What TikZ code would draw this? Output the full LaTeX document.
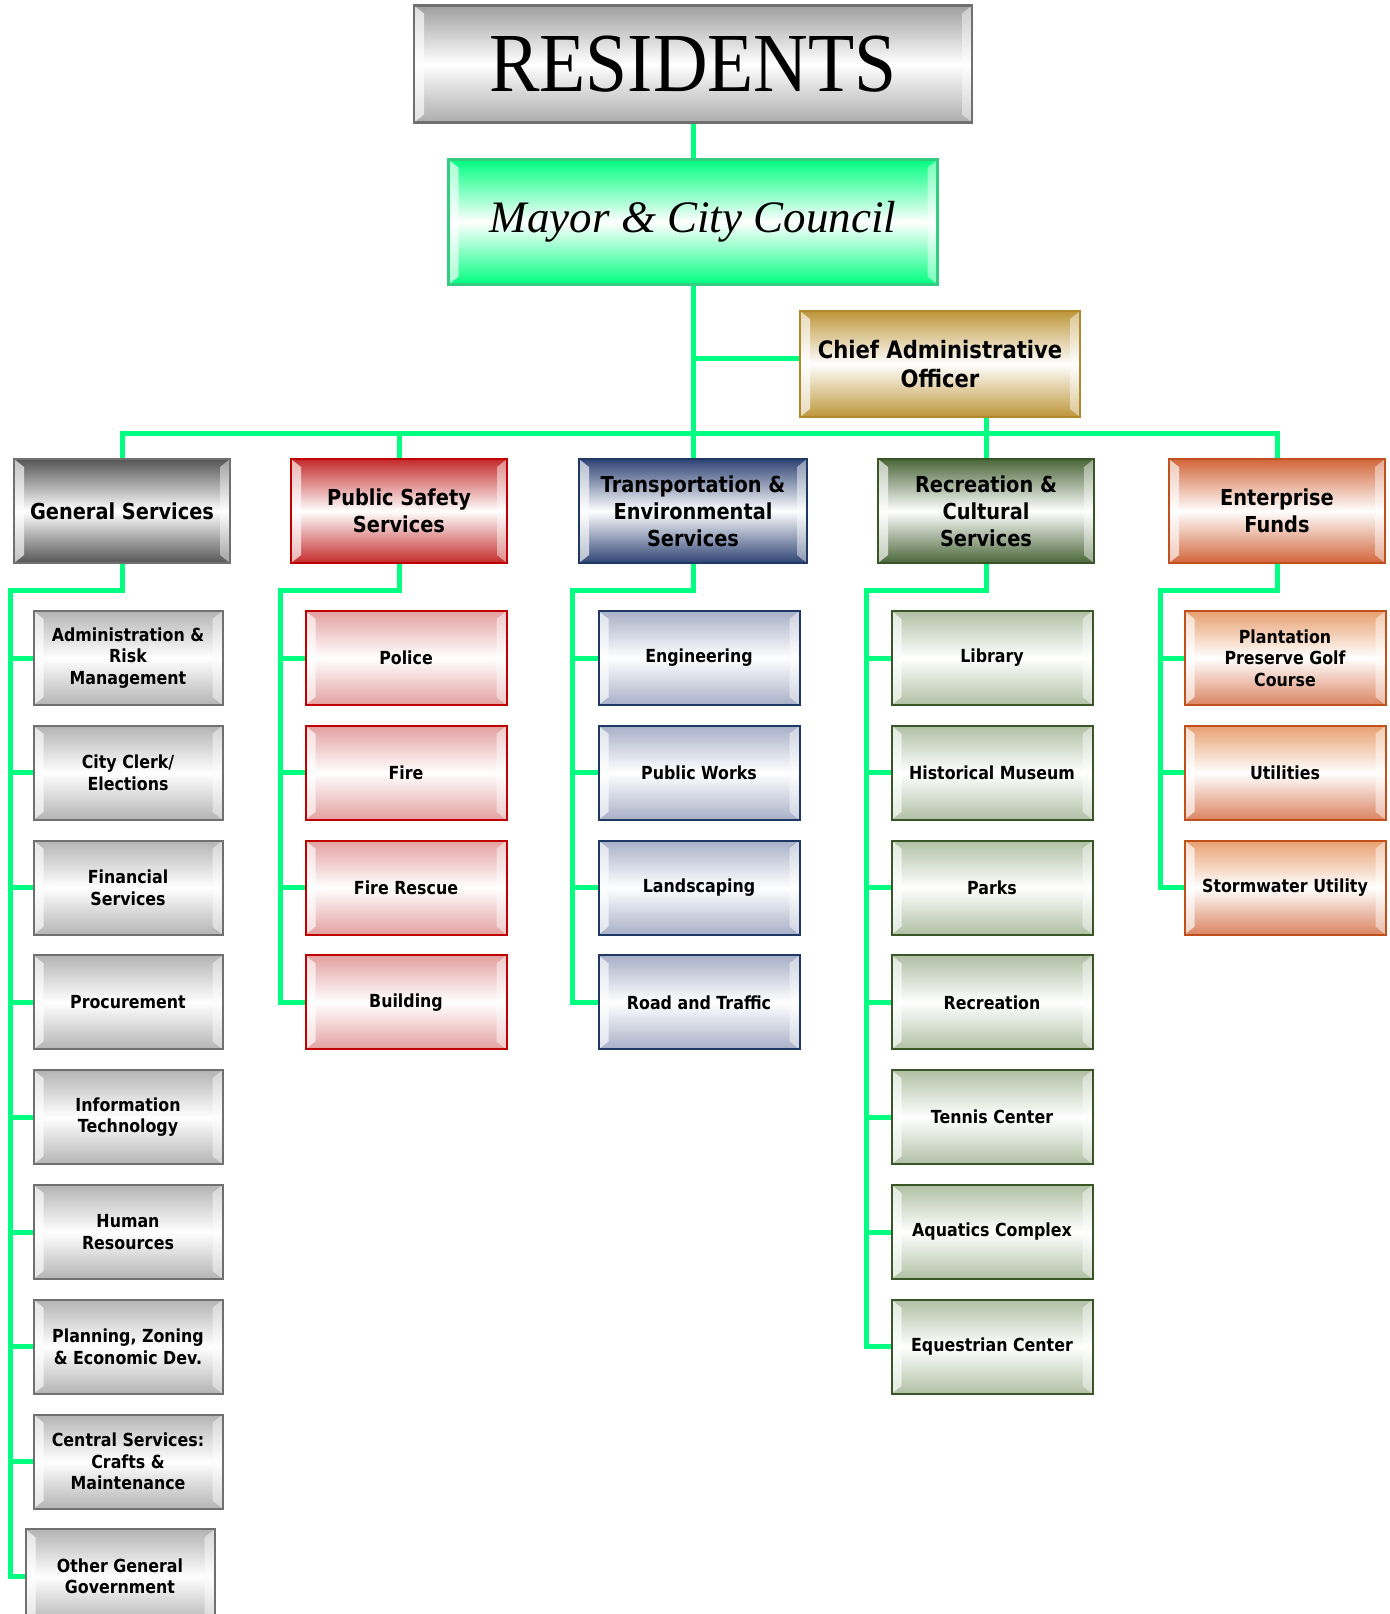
\documentclass[tikz,border=0pt]{standalone}
\usepackage{fontspec}
\setmainfont{DejaVu Sans}[FakeStretch=0.88]
\newfontfamily\residentsfont{Liberation Serif}[FakeStretch=0.9]
\newfontfamily\mayorfont{Liberation Serif}
\usetikzlibrary{positioning, calc}

\definecolor{linkgreen}{HTML}{00FF80}
\definecolor{grayline}{HTML}{707070}
\definecolor{graydark}{HTML}{555555}
\definecolor{graylight}{HTML}{B4B4B4}
\definecolor{redline}{HTML}{C00000}
\definecolor{reddark}{HTML}{C42A2A}
\definecolor{redlight}{HTML}{E4A0A0}
\definecolor{navyline}{HTML}{1F3864}
\definecolor{navydark}{HTML}{2E4374}
\definecolor{navylight}{HTML}{A8B0C8}
\definecolor{oliveline}{HTML}{3A5526}
\definecolor{olivedark}{HTML}{4A6638}
\definecolor{olivelight}{HTML}{B0C0A4}
\definecolor{rustline}{HTML}{C0501E}
\definecolor{rustdark}{HTML}{D2653A}
\definecolor{rustlight}{HTML}{E8A070}
\definecolor{goldline}{HTML}{B08A2A}
\definecolor{golddark}{HTML}{BE963A}
\definecolor{mintline}{HTML}{33CC80}
\definecolor{mintdark}{HTML}{00FF80}

\begin{document}
\begin{tikzpicture}[
	x=0.5pt, y=-0.5pt,
	node distance=9.4pt,
	bevel/.style={path picture={
		\fill[white, opacity=.65] (path picture bounding box.north west) -- ++(10,8) -- ($(path picture bounding box.south west)+(10,-8)$) -- (path picture bounding box.south west) -- cycle;
		\fill[white, opacity=.45] (path picture bounding box.north east) -- ++(-10,8) -- ($(path picture bounding box.south east)+(-10,-8)$) -- (path picture bounding box.south east) -- cycle;
	}},
	bevelbox/.style n args={3}{rectangle, draw=#1, top color=#2, bottom color=#3, middle color=white, bevel},
	dept/.style={line width=1pt, minimum width=108pt, minimum height=52pt, align=center, inner sep=2pt, font=\bfseries\fontsize{11}{13.4}\selectfont},
	unit/.style={line width=1pt, minimum width=100.5pt, minimum height=47pt, align=center, inner sep=2pt, font=\bfseries\fontsize{9}{10.8}\selectfont},
	gsdept/.style={dept, bevelbox={grayline}{graydark}{graydark}},
	psdept/.style={dept, bevelbox={redline}{reddark}{reddark}},
	tesdept/.style={dept, bevelbox={navyline}{navydark}{navydark}},
	rcdept/.style={dept, bevelbox={oliveline}{olivedark}{olivedark}},
	efdept/.style={dept, bevelbox={rustline}{rustdark}{rustdark}},
	gsunit/.style={unit, minimum width=94.5pt, bevelbox={grayline}{graylight}{graylight}},
	psunit/.style={unit, bevelbox={redline}{redlight}{redlight}},
	tesunit/.style={unit, bevelbox={navyline}{navylight}{navylight}},
	rcunit/.style={unit, bevelbox={oliveline}{olivelight}{olivelight}},
	efunit/.style={unit, bevelbox={rustline}{rustlight}{rustdark!80}},
	link/.style={draw=linkgreen, line width=2.5pt}
]

\path[use as bounding box, fill=white] (0,0) rectangle (1390,1614);

% Top of the chart
\node[bevelbox={grayline}{gray!75}{gray!65}, line width=1.2pt, minimum width=279pt, minimum height=58.5pt] (res) at (693,64) {\residentsfont\fontsize{42}{42}\selectfont RESIDENTS};
\node[bevelbox={mintline}{mintdark}{mintdark}, line width=1.2pt, minimum width=244.5pt, minimum height=62.5pt] (mayor) at (693,222) {\mayorfont\itshape\fontsize{22.5}{22.5}\selectfont Mayor \& City Council};
\node[bevelbox={goldline}{golddark}{golddark}, line width=1.2pt, minimum width=140pt, minimum height=53pt, align=center, font=\bfseries\fontsize{12}{14.4}\selectfont] (cao) at (940,364) {Chief Administrative\\Officer};

% Departments
\node[gsdept] (gs) at (122,511) {General Services};
\node[psdept] (ps) at (399,511) {Public Safety\\Services};
\node[tesdept, minimum width=114pt] (tes) at (693,511) {Transportation \&\\Environmental\\Services};
\node[rcdept] (rc) at (986,511) {Recreation \&\\Cultural\\Services};
\node[efdept] (ef) at (1277,511) {Enterprise\\Funds};

% General Services
\node[gsunit] (gs1) at (128,658) {Administration \&\\Risk\\Management};
\node[gsunit] (gs2) [below=of gs1] {City Clerk/\\Elections};
\node[gsunit] (gs3) [below=of gs2] {Financial\\Services};
\node[gsunit] (gs4) [below=of gs3] {Procurement};
\node[gsunit] (gs5) [below=of gs4] {Information\\Technology};
\node[gsunit] (gs6) [below=of gs5] {Human\\Resources};
\node[gsunit] (gs7) [below=of gs6] {Planning, Zoning\\\& Economic Dev.};
\node[gsunit] (gs8) [below=of gs7] {Central Services:\\Crafts \&\\Maintenance};
\node[gsunit] (gs9) [below=of gs8, xshift=-4pt] {Other General\\Government};

% Public Safety Services
\node[psunit] (ps1) at (406,658) {Police};
\node[psunit] (ps2) [below=of ps1] {Fire};
\node[psunit] (ps3) [below=of ps2] {Fire Rescue};
\node[psunit] (ps4) [below=of ps3] {Building};

% Transportation & Environmental Services
\node[tesunit] (tes1) at (699,658) {Engineering};
\node[tesunit] (tes2) [below=of tes1] {Public Works};
\node[tesunit] (tes3) [below=of tes2] {Landscaping};
\node[tesunit] (tes4) [below=of tes3] {Road and Traffic};

% Recreation & Cultural Services
\node[rcunit] (rc1) at (992,658) {Library};
\node[rcunit] (rc2) [below=of rc1] {Historical Museum};
\node[rcunit] (rc3) [below=of rc2] {Parks};
\node[rcunit] (rc4) [below=of rc3] {Recreation};
\node[rcunit] (rc5) [below=of rc4] {Tennis Center};
\node[rcunit] (rc6) [below=of rc5] {Aquatics Complex};
\node[rcunit] (rc7) [below=of rc6] {Equestrian Center};

% Enterprise Funds
\node[efunit] (ef1) at (1285,658) {Plantation\\Preserve Golf\\Course};
\node[efunit] (ef2) [below=of ef1] {Utilities};
\node[efunit] (ef3) [below=of ef2] {Stormwater Utility};

% Connectors at the top
\coordinate (bus) at (0,433);
\coordinate (caoin) at ($(cao.west)+(0,-6)$);
\draw[link] (res) -- (mayor);
\draw[link] (mayor) -- (tes);
\draw[link] (caoin) -- (caoin -| mayor.south);
\draw[link] (rc.north) -- (rc.north |- cao.south);
\draw[link] (gs.north) -- (gs.north |- bus) -- (ef.north |- bus) -- (ef.north);
\draw[link] (ps.north) -- (ps.north |- bus);

% Spines
\coordinate (gspine) at (10,590);
\coordinate (pspine) at (280,590);
\coordinate (tspine) at (572,590);
\coordinate (rspine) at (866,590);
\coordinate (espine) at (1160,590);
\draw[link] (gs.south) |- (gspine) |- (gs9.west);
\draw[link] (ps.south) |- (pspine) |- (ps4.west);
\draw[link] (tes.south) |- (tspine) |- (tes4.west);
\draw[link] (rc.south) |- (rspine) |- (rc7.west);
\draw[link] (ef.south) |- (espine) |- (ef3.west);

% Branches
\draw[link] (gs1.west) -- (gs1.west -| gspine) (gs2.west) -- (gs2.west -| gspine) (gs3.west) -- (gs3.west -| gspine) (gs4.west) -- (gs4.west -| gspine) (gs5.west) -- (gs5.west -| gspine) (gs6.west) -- (gs6.west -| gspine) (gs7.west) -- (gs7.west -| gspine) (gs8.west) -- (gs8.west -| gspine);
\draw[link] (ps1.west) -- (ps1.west -| pspine) (ps2.west) -- (ps2.west -| pspine) (ps3.west) -- (ps3.west -| pspine);
\draw[link] (tes1.west) -- (tes1.west -| tspine) (tes2.west) -- (tes2.west -| tspine) (tes3.west) -- (tes3.west -| tspine);
\draw[link] (rc1.west) -- (rc1.west -| rspine) (rc2.west) -- (rc2.west -| rspine) (rc3.west) -- (rc3.west -| rspine) (rc4.west) -- (rc4.west -| rspine) (rc5.west) -- (rc5.west -| rspine) (rc6.west) -- (rc6.west -| rspine);
\draw[link] (ef1.west) -- (ef1.west -| espine) (ef2.west) -- (ef2.west -| espine);

\end{tikzpicture}
\end{document}
